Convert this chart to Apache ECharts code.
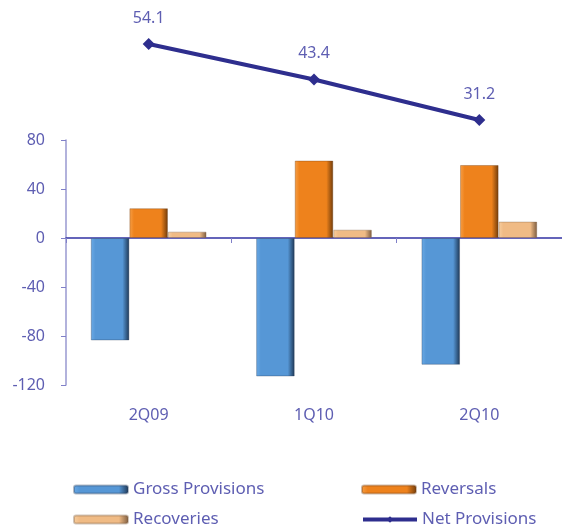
<!DOCTYPE html>
<html><head><meta charset="utf-8">
<script src="https://cdn.jsdelivr.net/npm/echarts@6/dist/echarts.min.js"></script>
<style>html,body{margin:0;padding:0;background:#fff}#c{width:562px;height:528px}</style>
</head><body><div id="c"></div>
<script>
const categories = ['2Q09', '1Q10', '2Q10'];
const grossProvisions = [-83.6, -113.0, -103.5];
const reversals = [24.3, 63.2, 59.6];
const recoveries = [5.2, 6.8, 13.4];
const netProvisions = [54.1, 43.4, 31.2];
const yTicks = {min: -120, max: 80, interval: 40};

const txt = '#5e5eb2';
const font = 'Noto Sans';
function grad(light, mid, dark){
  return {type:'linear', x:0, y:0, x2:1, y2:0, colorStops:[
    {offset:0, color:light},{offset:0.12, color:mid},{offset:0.82, color:mid},{offset:1, color:dark}]};
}
const chart = echarts.init(document.getElementById('c'));
const legendBase = {itemWidth:54, itemHeight:8, padding:0, textStyle:{color:txt, fontSize:17, fontFamily:font}, itemGap:4, selectedMode:false};
chart.setOption({
  animation:false,
  grid:[{left:66, right:0, top:140, bottom:143},{left:66, right:0, top:24.4, height:132.8},{left:66, right:0, top:140, bottom:143}],
  xAxis:[
    {type:'category', data:categories, gridIndex:0, position:'bottom', axisLine:{onZero:true, lineStyle:{color:'#3232a4', width:1.5}},
     axisTick:{show:true, length:5, lineStyle:{color:'#8080c8'}}, axisLabel:{show:false}},
    {type:'category', data:categories, gridIndex:2, position:'bottom', axisLine:{show:false}, axisTick:{show:false},
     axisLabel:{color:txt, fontSize:16, fontFamily:font, margin:22}},
    {type:'category', data:categories, gridIndex:1, show:false}
  ],
  yAxis:[
    {type:'value', gridIndex:0, min:yTicks.min, max:yTicks.max, interval:yTicks.interval,
     axisLine:{show:true, lineStyle:{color:'#9898d0', width:1.5}}, axisTick:{show:true, length:5, lineStyle:{color:'#8080c8'}},
     splitLine:{show:false}, axisLabel:{color:txt, fontSize:16, fontFamily:font, margin:21}},
    {type:'value', gridIndex:1, min:20, max:60, show:false},
    {type:'value', gridIndex:2, min:yTicks.min, max:yTicks.max, show:false}
  ],
  legend:[
    Object.assign({data:['Gross Provisions'], left:73, top:481}, legendBase),
    Object.assign({data:['Reversals'], left:361, top:481}, legendBase),
    Object.assign({data:['Recoveries'], left:73, top:511}, legendBase),
    Object.assign({data:['Net Provisions'], left:361, top:511, itemHeight:12, lineStyle:{width:4}}, legendBase)
  ],
  series:[
    {name:'Gross Provisions', type:'bar', xAxisIndex:0, yAxisIndex:0, data:grossProvisions, barGap:'0%', barCategoryGap:'30%',
     itemStyle:{color:grad('#6aaae6','#5697d6','#1c3552'), borderColor:'rgba(40,60,90,0.35)', borderWidth:1}},
    {name:'Reversals', type:'bar', xAxisIndex:0, yAxisIndex:0, data:reversals,
     itemStyle:{color:grad('#f7a048','#ee821c','#6e3a0a'), borderColor:'rgba(110,60,20,0.35)', borderWidth:1}},
    {name:'Recoveries', type:'bar', xAxisIndex:0, yAxisIndex:0, data:recoveries,
     itemStyle:{color:grad('#f8cfa0','#f0bb85','#7a5a3e'), borderColor:'rgba(120,90,60,0.35)', borderWidth:1}},
    {name:'Net Provisions', type:'line', xAxisIndex:2, yAxisIndex:1, data:netProvisions,
     symbol:'diamond', symbolSize:12, lineStyle:{color:'#2e2e8e', width:4}, itemStyle:{color:'#2e2e8e'},
     label:{show:true, position:'top', distance:12, color:txt, fontSize:16, fontFamily:font}}
  ]
});
</script></body></html>
